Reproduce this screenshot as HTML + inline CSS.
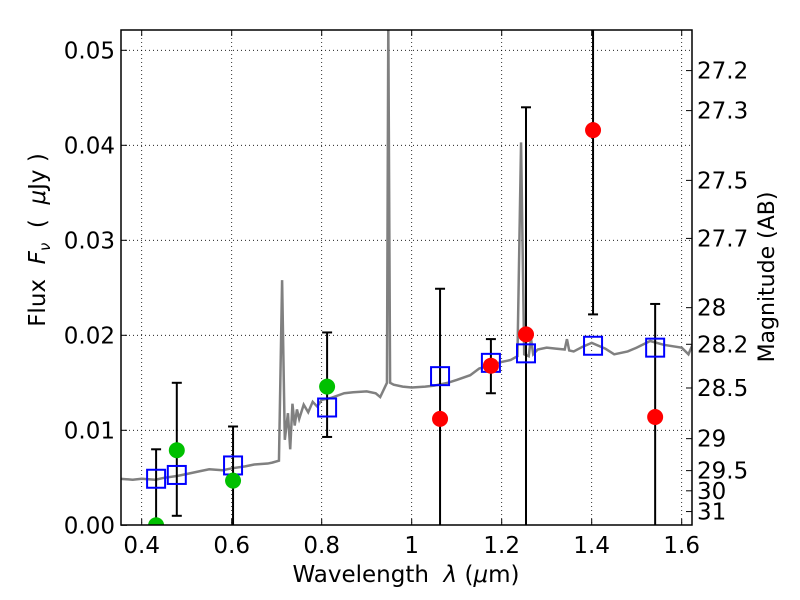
<!DOCTYPE html>
<html><head><meta charset="utf-8"><style>body{margin:0;background:#fff}svg{display:block;font-family:"DejaVu Sans","Liberation Sans",sans-serif}text{white-space:pre}</style></head>
<body>
<svg id="c" width="800" height="600"></svg>
<script>
const specX=[0.35,0.38,0.40,0.43,0.45,0.48,0.50,0.53,0.55,0.58,0.60,0.63,0.65,0.68,0.69,0.705,0.712,0.718,0.725,0.73,0.735,0.74,0.745,0.75,0.76,0.77,0.78,0.79,0.80,0.82,0.85,0.87,0.90,0.92,0.93,0.94,0.945,0.948,0.952,0.96,0.98,1.0,1.03,1.05,1.08,1.1,1.13,1.15,1.18,1.2,1.22,1.235,1.243,1.25,1.26,1.265,1.27,1.28,1.3,1.32,1.34,1.345,1.35,1.36,1.38,1.4,1.43,1.45,1.48,1.5,1.53,1.56,1.6,1.615,1.625];
const specY=[0.0049,0.0048,0.0049,0.0048,0.0050,0.0052,0.0054,0.0057,0.0059,0.0058,0.0060,0.0062,0.0064,0.0065,0.0066,0.0068,0.0258,0.0090,0.0118,0.0080,0.0128,0.0105,0.0122,0.0112,0.0127,0.0119,0.0130,0.0125,0.0132,0.0134,0.0139,0.0140,0.0141,0.0139,0.0135,0.0145,0.0150,0.0530,0.0150,0.0148,0.0146,0.0145,0.0146,0.0147,0.0150,0.0153,0.0158,0.0165,0.0169,0.0172,0.0174,0.0178,0.0403,0.0180,0.0178,0.0197,0.0180,0.0185,0.0187,0.0186,0.0185,0.0196,0.0184,0.0183,0.0188,0.0192,0.0186,0.0180,0.0183,0.0187,0.0194,0.0190,0.0187,0.0180,0.0191];
const modelX=[0.432,0.478,0.603,0.812,1.063,1.176,1.254,1.403,1.541];
const modelY=[0.0049,0.0053,0.0063,0.0124,0.0157,0.0171,0.0181,0.0189,0.0187];
const greenX=[0.432,0.478,0.603,0.812];
const greenY=[0.0,0.0079,0.0047,0.0146];
const redX=[1.063,1.176,1.254,1.403,1.541];
const redY=[0.0112,0.0168,0.0201,0.0416,0.0114];
const errX=[0.432,0.478,0.603,0.812,1.063,1.176,1.254,1.403,1.541];
const errLo=[-0.01,0.0010,-0.01,0.0093,-0.01,0.0139,-0.01,0.0222,-0.01];
const errHi=[0.0080,0.0150,0.0104,0.0203,0.0249,0.0196,0.0440,0.07,0.0233];
const xTicks=[0.4,0.6,0.8,1.0,1.2,1.4,1.6];
const xTickLabels=["0.4","0.6","0.8","1","1.2","1.4","1.6"];
const yTicks=[0,0.01,0.02,0.03,0.04,0.05];
const yTickLabels=["0.00","0.01","0.02","0.03","0.04","0.05"];
const magTicks=[27.2,27.3,27.5,27.7,28,28.2,28.5,29,29.5,30,31];
const magLabels=["27.2","27.3","27.5","27.7","28","28.2","28.5","29","29.5","30","31"];

const L=121,R=692,T=30,B=525;
const X=v=>411.7+(v-1)*450;
const Y=v=>525.3-v*9500;
const NS="http://www.w3.org/2000/svg";
const svg=document.getElementById('c');
function mk(t,a,p){const e=document.createElementNS(NS,t);for(const k in a)e.setAttribute(k,a[k]);(p||svg).appendChild(e);return e;}
const defs=mk('defs',{});const cp=mk('clipPath',{id:'cp'},defs);mk('rect',{x:L,y:T,width:R-L,height:B-T},cp);
const plot=mk('g',{'clip-path':'url(#cp)'});

xTicks.forEach(v=>{const g=mk('line',{x1:X(v),x2:X(v),y1:T,y2:B,stroke:'#000','stroke-width':0.8,'stroke-dasharray':'1,3'},plot);});
yTicks.forEach(v=>{const g=mk('line',{x1:L,x2:R,y1:Y(v),y2:Y(v),stroke:'#000','stroke-width':0.8,'stroke-dasharray':'1,3'},plot);});
const sp=mk('polyline',{points:specX.map((x,i)=>X(x)+','+Y(specY[i])).join(' '),fill:'none',stroke:'#808080','stroke-width':2.5},plot);

errX.forEach((x,i)=>{const g=mk('g',{},plot);
 mk('line',{x1:X(x),x2:X(x),y1:Y(errLo[i]),y2:Y(errHi[i]),stroke:'#000','stroke-width':2},g);
 [errLo[i],errHi[i]].forEach(v=>{if(v>0)mk('line',{x1:X(x)-5,x2:X(x)+5,y1:Y(v),y2:Y(v),stroke:'#000','stroke-width':2},g);});});
modelX.forEach((x,i)=>{const r=mk('rect',{x:X(x)-9,y:Y(modelY[i])-9,width:18,height:18,fill:'none',stroke:'#0000ff','stroke-width':2},plot);});
greenX.forEach((x,i)=>{const c=mk('circle',{cx:X(x),cy:Y(greenY[i]),r:8,fill:'#00c000'},plot);});
redX.forEach((x,i)=>{const c=mk('circle',{cx:X(x),cy:Y(redY[i]),r:8,fill:'#ff0000'},plot);});
const fr=mk('rect',{x:L,y:T,width:R-L,height:B-T,fill:'none',stroke:'#000','stroke-width':1.5});
xTicks.forEach((v,i)=>{mk('line',{x1:X(v),x2:X(v),y1:B,y2:B-6,stroke:'#000'});mk('line',{x1:X(v),x2:X(v),y1:T,y2:T+6,stroke:'#000'});
 const t=mk('text',{x:X(v),y:B+28,'text-anchor':'middle','font-size':23});t.textContent=xTickLabels[i];});
yTicks.forEach((v,i)=>{mk('line',{x1:L,x2:L+6,y1:Y(v),y2:Y(v),stroke:'#000'});
 const t=mk('text',{x:L-6,y:Y(v)+8,'text-anchor':'end','font-size':23});t.textContent=yTickLabels[i];});
magTicks.forEach((m,i)=>{const f=Math.pow(10,(23.9-m)/2.5);const y=Y(f);mk('line',{x1:R,x2:R-6,y1:y,y2:y,stroke:'#000'});
 const t=mk('text',{x:R+5,y:y+8,'font-size':23});t.textContent=magLabels[i];});
const xl=mk('text',{x:406,y:582,'text-anchor':'middle','font-size':23});xl.innerHTML='Wavelength  <tspan font-style="italic">λ</tspan> (<tspan font-style="italic">μ</tspan>m)';
const yl=mk('text',{x:0,y:0,'text-anchor':'middle','font-size':23,transform:'translate(45,240) rotate(-90)'});yl.innerHTML='Flux  <tspan font-style="italic">F</tspan><tspan font-style="italic" font-size="15" dy="5">ν</tspan><tspan dy="-5">  (  </tspan><tspan font-style="italic">μ</tspan>Jy )';
const ml=mk('text',{x:0,y:0,'text-anchor':'middle','font-size':22,transform:'translate(774,277) rotate(-90)'});ml.textContent='Magnitude (AB)';
</script>
</body></html>
